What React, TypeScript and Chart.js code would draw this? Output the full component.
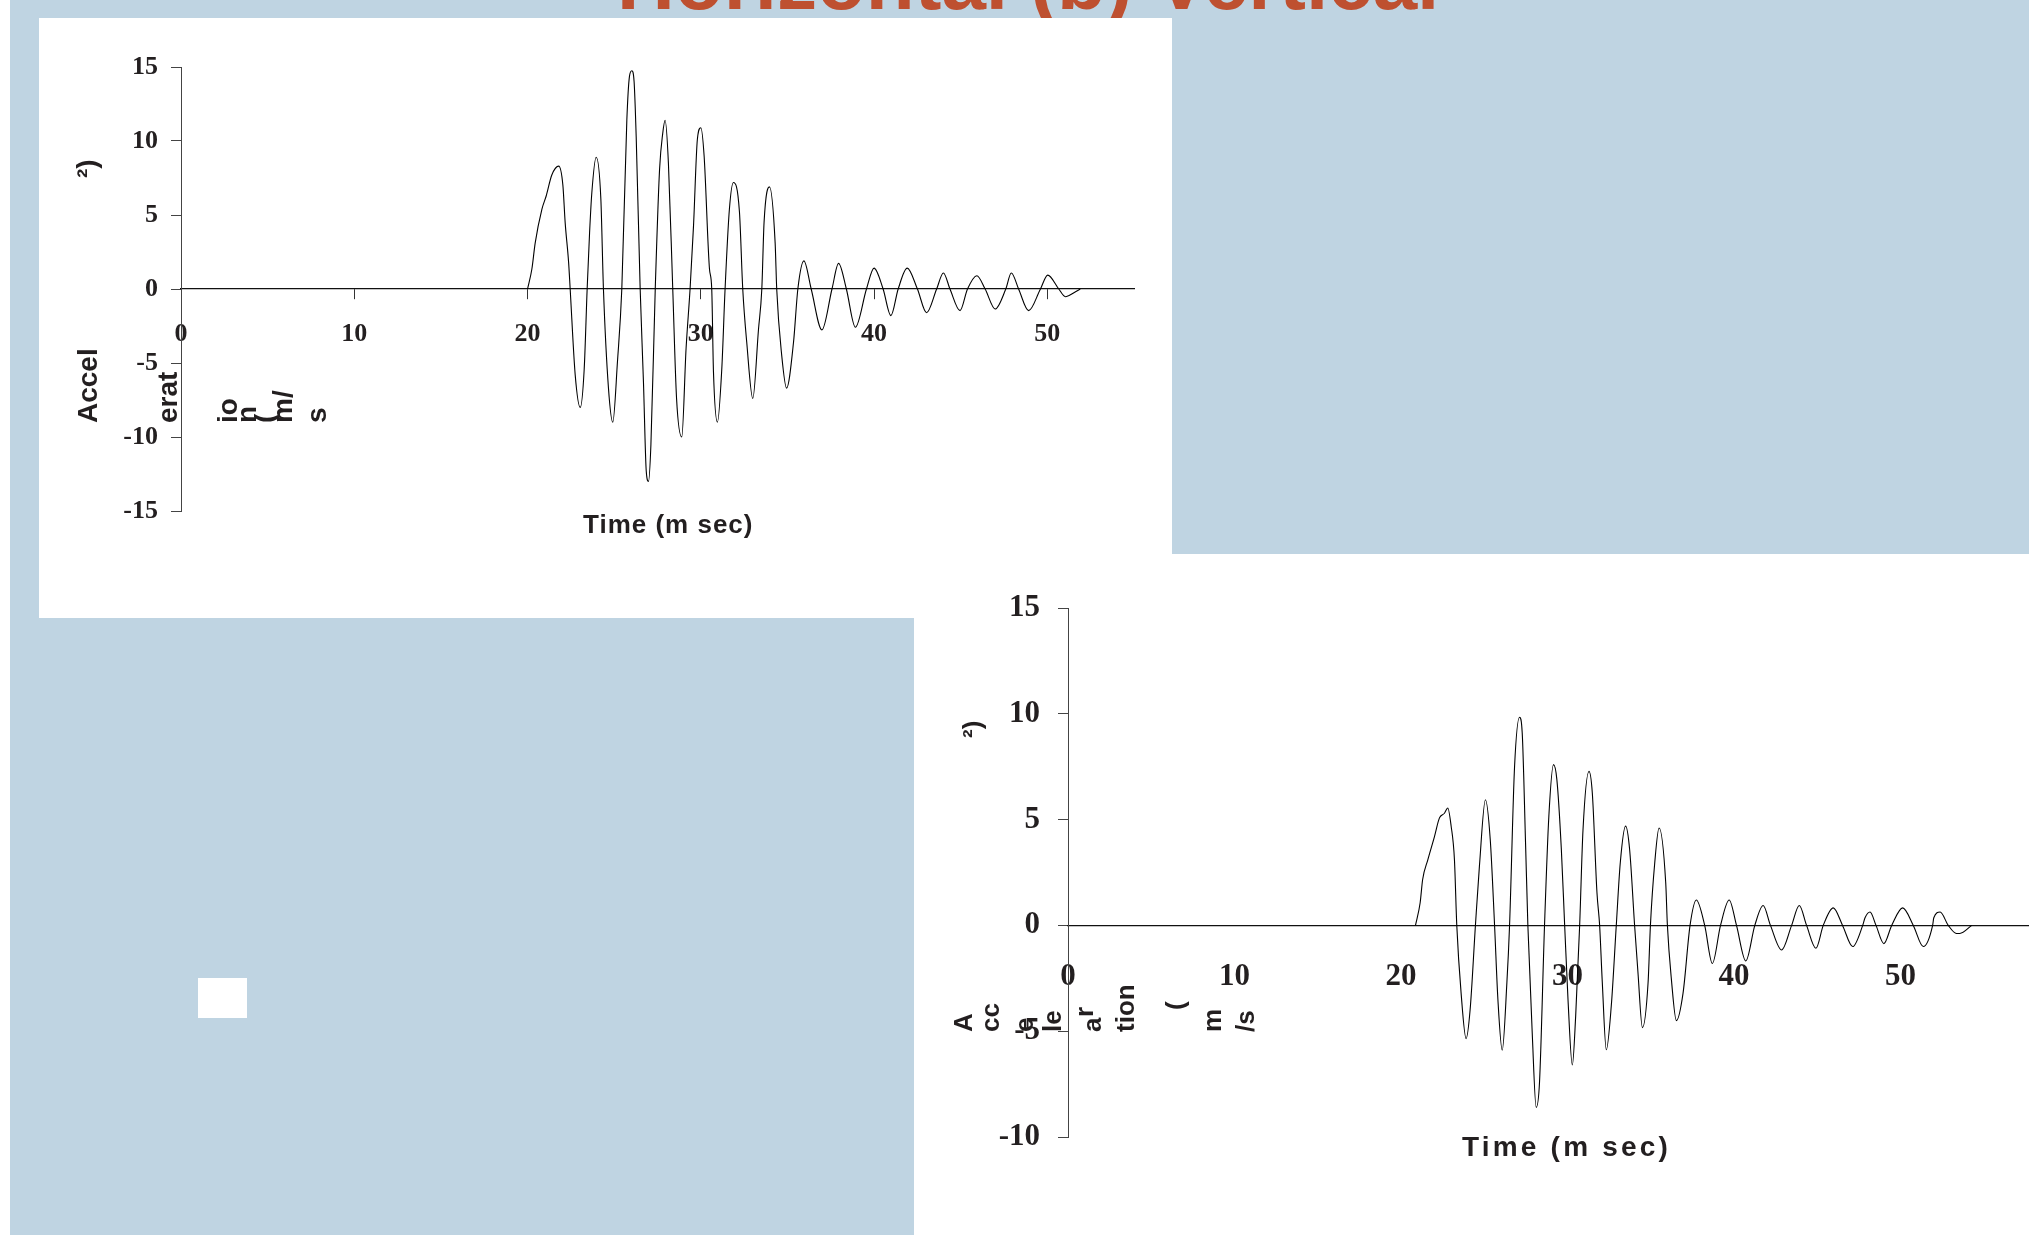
import React, { useEffect, useRef } from "react";
import { Chart, registerables } from "chart.js";

Chart.register(...registerables);

// ---------- data ----------
// (a) Horizontal acceleration record
const horizontalTime = [
  20.0, 20.25, 20.44, 20.83, 21.08, 21.4, 21.8, 22.04, 22.17, 22.37, 22.46, 22.75, 23.04, 23.27, 23.44,
  23.58, 23.71, 23.96, 24.23, 24.38, 24.67, 24.92, 25.19, 25.44, 25.73, 25.88, 26.02, 26.15, 26.27, 26.5,
  26.69, 26.85, 26.98, 27.12, 27.37, 27.62, 27.8, 27.94, 28.13, 28.38, 28.6, 28.9, 29.15, 29.38, 29.58,
  29.8, 30.0, 30.19, 30.5, 30.63, 30.73, 30.96, 31.21, 31.4, 31.65, 31.88, 32.23, 32.42, 32.65, 33.0,
  33.33, 33.52, 33.65, 33.96, 34.29, 34.38, 34.67, 34.95, 35.35, 35.6, 35.95, 36.37, 36.99, 37.57, 37.95,
  38.4, 38.92, 39.56, 40.0, 40.52, 40.97, 41.39, 41.91, 42.5, 43.03, 43.61, 44.0, 44.38, 44.96, 45.39,
  45.93, 46.41, 46.99, 47.6, 47.92, 48.34, 48.92, 49.6, 50.02, 50.66, 51.04, 51.23, 51.9,
];
const horizontalAccel = [
  0, 1.35, 3.1, 5.4, 6.3, 7.7, 8.3, 7.0, 4.5, 1.8, 0, -5.8, -8.0, -5.4, 0,
  3.8, 6.5, 8.9, 6.1, 0, -6.7, -9.0, -4.9, 0, 11.4, 14.35, 14.75, 14.0, 10.3, 0,
  -6.3, -12.3, -13.0, -10.5, 0, 8.1, 10.5, 11.4, 8.5, 0, -7.4, -10.0, -4.0, 0, 4.3,
  10.1, 10.9, 9.0, 1.35, 0, -5.6, -9.0, -5.4, 0, 5.4, 7.2, 5.2, 0, -3.6, -7.4,
  -2.7, 0, 4.5, 6.9, 3.1, 0, -4.5, -6.7, -3.6, 0, 1.9, 0, -2.76, 0, 1.73,
  0, -2.58, 0, 1.41, 0, -1.8, 0, 1.41, 0, -1.6, 0, 1.08, 0, -1.46, 0,
  0.9, 0, -1.35, 0, 1.08, 0, -1.46, 0, 0.94, 0, -0.52, -0.45, 0,
];

// (b) Vertical acceleration record
const verticalTime = [
  20.87, 21.15, 21.3, 21.61, 22.01, 22.31, 22.61, 22.81, 23.01, 23.21, 23.35, 23.61, 23.91, 24.15, 24.47,
  24.71, 25.07, 25.36, 25.62, 25.82, 26.08, 26.36, 26.52, 26.82, 27.12, 27.28, 27.48, 27.62, 27.88, 28.12,
  28.32, 28.62, 28.88, 29.16, 29.36, 29.63, 29.83, 30.03, 30.29, 30.49, 30.73, 30.93, 31.29, 31.49, 31.77,
  31.93, 32.09, 32.33, 32.63, 32.93, 33.17, 33.49, 33.73, 34.03, 34.23, 34.5, 34.84, 34.98, 35.24, 35.5,
  35.9, 36.0, 36.24, 36.54, 36.94, 37.36, 37.74, 38.24, 38.7, 39.19, 39.71, 40.15, 40.71, 41.25, 41.75,
  42.19, 42.86, 43.46, 43.92, 44.36, 44.92, 45.36, 45.96, 46.52, 47.13, 47.73, 47.87, 48.17, 48.53, 49.0,
  49.47, 50.13, 50.77, 51.37, 51.93, 52.0, 52.38, 52.87, 53.36, 53.56, 54.28,
];
const verticalAccel = [
  0, 1.07, 2.17, 3.1, 4.2, 5.08, 5.3, 5.55, 4.7, 3.1, 0, -3.2, -5.35, -4.0, 0,
  2.8, 5.94, 4.06, 0, -3.5, -5.9, -2.7, 0, 7.5, 9.84, 9.1, 3.9, 0, -5.06, -8.6,
  -7.4, 0, 5.16, 7.6, 6.9, 3.6, 0, -3.5, -6.6, -4.3, 0, 4.5, 7.28, 6.26, 1.54,
  0, -2.7, -5.88, -3.8, 0, 2.96, 4.69, 3.6, 0, -2.2, -4.83, -2.7, 0, 2.96, 4.6,
  2.0, 0, -2.55, -4.5, -3.2, 0, 1.2, 0, -1.8, 0, 1.2, 0, -1.68, 0, 0.94,
  0, -1.16, 0, 0.94, 0, -1.08, 0, 0.83, 0, -1.0, 0, 0.36, 0.63, 0, -0.86,
  0, 0.83, 0, -1.0, 0, 0.36, 0.63, 0, -0.38, -0.38, 0,
];

// axis ranges / ticks
const horizontalYRange = [-15, 15];
const verticalYRange = [-10, 15];
const yTickStep = 5;
const xTickStep = 10;
const xLastLabel = 50;
const horizontalXMax = 55;
const verticalXMax = 60;

const titleText = "Horizontal (b) Vertical";
const xAxisTitle = "Time (m sec)";
const topYTitleParts = ["Accel", "erat", "io", "n", "(", "m/", "s", "\u00B2)"];
const bottomYTitleParts = ["A", "cc", "e", "le", "r", "a", "tion", "(", "m", "/s", "\u00B2)"];

// ---------- styling ----------
const BLUE = "#BFD4E2";
const INK = "#231F20";
const SANS = "'Liberation Sans', Arial, Helvetica, sans-serif";
const SERIF = "'Liberation Serif', 'Times New Roman', Times, serif";

type ChartProps = {
  time: number[];
  accel: number[];
  left: number;
  top: number;
  width: number;
  height: number;
  yRange: number[];
  xMax: number;
  yWidth: number;
  padTop: number;
  padRight: number;
  padBottom: number;
  fontSize: number;
  xTickLen: number;
  xPad: number;
  yPad: number;
};

function WaveChart(p: ChartProps) {
  const ref = useRef<HTMLCanvasElement | null>(null);
  useEffect(() => {
    if (!ref.current) return;
    const points = p.time.map((t, i) => ({ x: t, y: p.accel[i] }));
    const font = { family: SERIF, weight: "bold" as const, size: p.fontSize, lineHeight: 1.2 };
    const chart = new Chart(ref.current, {
      type: "line",
      data: {
        datasets: [
          {
            data: points,
            borderColor: "#000",
            borderWidth: 1.1,
            pointRadius: 0,
            fill: false,
            cubicInterpolationMode: "monotone",
          },
        ],
      },
      options: {
        responsive: false,
        animation: false,
        events: [],
        layout: { padding: { left: 0, top: p.padTop, right: p.padRight, bottom: p.padBottom } },
        plugins: { legend: { display: false }, tooltip: { enabled: false }, title: { display: false } },
        scales: {
          x: {
            type: "linear",
            min: 0,
            max: p.xMax,
            position: { y: 0 } as any,
            afterBuildTicks: (s: any) => {
              s.ticks = s.ticks.filter((t: any) => t.value % xTickStep === 0 && t.value <= xLastLabel);
            },
            ticks: {
              stepSize: xTickStep,
              autoSkip: false,
              maxRotation: 0,
              minRotation: 0,
              padding: p.xPad,
              color: INK,
              font,
            },
            grid: {
              drawOnChartArea: false,
              drawTicks: p.xTickLen > 0,
              tickLength: p.xTickLen,
              color: "#333",
              lineWidth: 1,
            },
            border: { display: true, color: "#111", width: 1.2 },
          },
          y: {
            type: "linear",
            min: p.yRange[0],
            max: p.yRange[1],
            afterFit: (s: any) => {
              s.width = p.yWidth;
            },
            ticks: { stepSize: yTickStep, padding: p.yPad, color: INK, font },
            grid: { drawOnChartArea: false, drawTicks: true, tickLength: 10, color: "#444", lineWidth: 1 },
            border: { display: true, color: "#444", width: 1 },
          },
        },
      },
    });
    return () => chart.destroy();
  }, []);
  return (
    <canvas
      ref={ref}
      width={p.width}
      height={p.height}
      style={{ position: "absolute", left: p.left, top: p.top, width: p.width, height: p.height }}
    />
  );
}

function VText({ text, baseX, startY, size }: { text: string; baseX: number; startY: number; size: number }) {
  return (
    <span
      style={{
        position: "absolute",
        left: baseX - 0.8465 * size,
        top: startY,
        transformOrigin: "0 0",
        transform: "rotate(-90deg)",
        fontFamily: SANS,
        fontWeight: "bold",
        fontSize: size,
        lineHeight: `${size}px`,
        whiteSpace: "nowrap",
        color: INK,
      }}
    >
      {text}
    </span>
  );
}

function HText({
  text,
  left,
  baseline,
  size,
  spacing,
  color,
}: {
  text: string;
  left: number;
  baseline: number;
  size: number;
  spacing: number;
  color: string;
}) {
  return (
    <span
      style={{
        position: "absolute",
        left,
        top: baseline - 0.8465 * size,
        fontFamily: SANS,
        fontWeight: "bold",
        fontSize: size,
        lineHeight: `${size}px`,
        letterSpacing: spacing,
        whiteSpace: "nowrap",
        color,
      }}
    >
      {text}
    </span>
  );
}

const topFragPos = [
  [98, 423],
  [178, 423],
  [238, 423],
  [257, 423],
  [275, 423],
  [293, 423],
  [327, 423],
  [97, 178],
];
const bottomFragPos = [
  [972, 1032],
  [999, 1032],
  [1033, 1032],
  [1061, 1032],
  [1093, 1017],
  [1101, 1032],
  [1134, 1032],
  [1184, 1010],
  [1221, 1032],
  [1254, 1032],
  [981, 738],
];

export default function App() {
  return (
    <div
      style={{
        position: "fixed",
        left: 0,
        top: 0,
        width: 2029,
        height: 1235,
        overflow: "hidden",
        background: "#fff",
      }}
    >
      <div style={{ position: "absolute", left: 10, top: 0, width: 2019, height: 1235, background: BLUE }} />
      <HText text={titleText} left={617} baseline={10} size={80} spacing={0} color="#BE5030" />
      <div style={{ position: "absolute", left: 39, top: 18, width: 1133, height: 600, background: "#fff" }} />
      <div style={{ position: "absolute", left: 914, top: 554, width: 1115, height: 681, background: "#fff" }} />
      <div style={{ position: "absolute", left: 198, top: 978, width: 49, height: 40, background: "#fff" }} />

      <WaveChart
        time={horizontalTime}
        accel={horizontalAccel}
        left={39}
        top={18}
        width={1133}
        height={600}
        yRange={horizontalYRange}
        xMax={horizontalXMax}
        yWidth={142}
        padTop={49}
        padRight={38}
        padBottom={107}
        fontSize={26}
        xTickLen={10}
        xPad={20}
        yPad={13}
      />
      <WaveChart
        time={verticalTime}
        accel={verticalAccel}
        left={914}
        top={554}
        width={1173}
        height={681}
        yRange={verticalYRange}
        xMax={verticalXMax}
        yWidth={154}
        padTop={54}
        padRight={20}
        padBottom={98}
        fontSize={31}
        xTickLen={0}
        xPad={33}
        yPad={18}
      />

      {topYTitleParts.map((t, i) => (
        <VText key={"t" + i} text={t} baseX={topFragPos[i][0]} startY={topFragPos[i][1]} size={28} />
      ))}
      {bottomYTitleParts.map((t, i) => (
        <VText key={"b" + i} text={t} baseX={bottomFragPos[i][0]} startY={bottomFragPos[i][1]} size={26} />
      ))}
      <HText text={xAxisTitle} left={583} baseline={533} size={26} spacing={1} color={INK} />
      <HText text={xAxisTitle} left={1462} baseline={1157} size={28} spacing={3.2} color={INK} />
    </div>
  );
}
